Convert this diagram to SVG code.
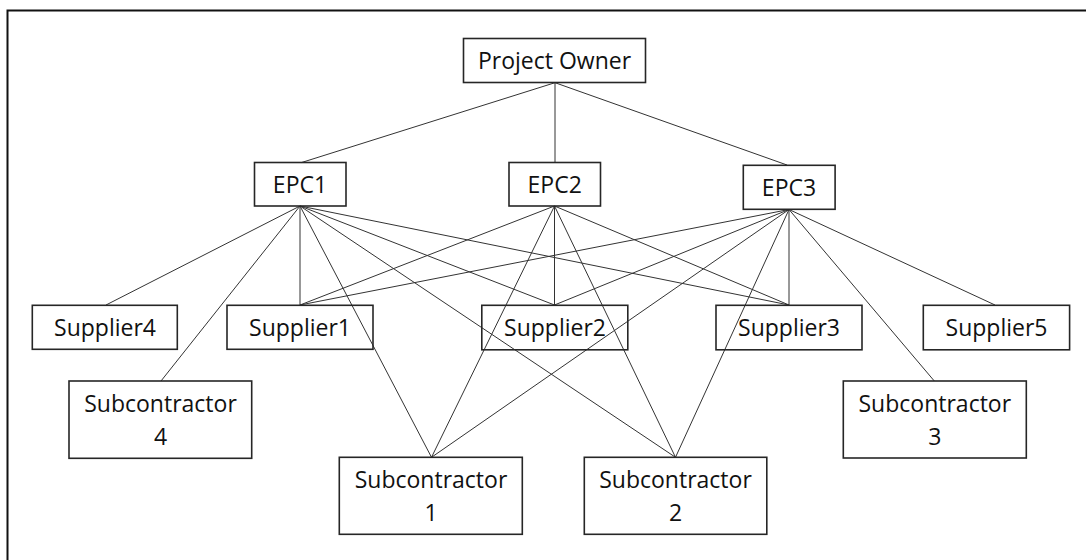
<svg xmlns="http://www.w3.org/2000/svg" width="1086" height="560" viewBox="0 0 1086 560">
<style>
.box{fill:none;stroke:#262626;stroke-width:1.6}
.lbl{font-family:"Open Sans","Noto Sans",sans-serif;font-size:23px;fill:#111;text-anchor:middle}
.ln{stroke:#333;stroke-width:1;fill:none}
.frame{stroke:#111;stroke-width:2;fill:none}
</style>
<rect width="1086" height="560" fill="#fff"/>
<path class="frame" d="M7.5,560 V10.5 H1086"/>
<g id="connectors">
<line class="ln" x1="555" y1="82.7" x2="301" y2="162.7"/>
<line class="ln" x1="555" y1="82.7" x2="555" y2="162.7"/>
<line class="ln" x1="555" y1="82.7" x2="787" y2="165"/>
<line class="ln" x1="300" y1="206" x2="106" y2="305"/>
<line class="ln" x1="300" y1="206" x2="161" y2="381"/>
<line class="ln" x1="300" y1="206" x2="300" y2="305"/>
<line class="ln" x1="300" y1="206" x2="554.5" y2="305"/>
<line class="ln" x1="300" y1="206" x2="789" y2="305"/>
<line class="ln" x1="300" y1="206" x2="431.5" y2="457.3"/>
<line class="ln" x1="300" y1="206" x2="675.5" y2="457.3"/>
<line class="ln" x1="554.5" y1="206" x2="300" y2="305"/>
<line class="ln" x1="554.5" y1="206" x2="554.5" y2="305"/>
<line class="ln" x1="554.5" y1="206" x2="789" y2="305"/>
<line class="ln" x1="554.5" y1="206" x2="431.5" y2="457.3"/>
<line class="ln" x1="554.5" y1="206" x2="675.5" y2="457.3"/>
<line class="ln" x1="789" y1="209.5" x2="300" y2="305"/>
<line class="ln" x1="789" y1="209.5" x2="554.5" y2="305"/>
<line class="ln" x1="789" y1="209.5" x2="789" y2="305"/>
<line class="ln" x1="789" y1="209.5" x2="995" y2="305"/>
<line class="ln" x1="789" y1="209.5" x2="431.5" y2="457.3"/>
<line class="ln" x1="789" y1="209.5" x2="675.5" y2="457.3"/>
<line class="ln" x1="789" y1="209.5" x2="934.3" y2="381"/>
</g>
<g id="project-owner"><rect class="box" x="463.5" y="38.5" width="182" height="44"/><text class="lbl" x="554.5" y="69">Project Owner</text></g>
<g id="epc1"><rect class="box" x="254.5" y="162.5" width="91.5" height="43.5"/><text class="lbl" x="300" y="193">EPC1</text></g>
<g id="epc2"><rect class="box" x="509" y="162.5" width="91.5" height="43.5"/><text class="lbl" x="554.7" y="193">EPC2</text></g>
<g id="epc3"><rect class="box" x="743.3" y="165.3" width="91.8" height="44"/><text class="lbl" x="789" y="196">EPC3</text></g>
<g id="supplier4"><rect class="box" x="32.3" y="305.3" width="145" height="44"/><text class="lbl" x="105" y="335.5">Supplier4</text></g>
<g id="supplier1"><rect class="box" x="227" y="305.3" width="146" height="44"/><text class="lbl" x="300" y="335.5">Supplier1</text></g>
<g id="supplier2"><rect class="box" x="481.8" y="305.3" width="146" height="44.5"/><text class="lbl" x="555" y="335.8">Supplier2</text></g>
<g id="supplier3"><rect class="box" x="716" y="305.3" width="146" height="44.5"/><text class="lbl" x="789" y="335.8">Supplier3</text></g>
<g id="supplier5"><rect class="box" x="923.3" y="305.3" width="146.3" height="44.5"/><text class="lbl" x="996.5" y="335.8">Supplier5</text></g>
<g id="subcontractor4"><rect class="box" x="69" y="381" width="182.7" height="77.3"/><text class="lbl" x="160.5" y="412">Subcontractor</text><text class="lbl" x="160.5" y="444.5">4</text></g>
<g id="subcontractor1"><rect class="box" x="339.3" y="457.3" width="183" height="77"/><text class="lbl" x="431" y="488">Subcontractor</text><text class="lbl" x="431" y="520.7">1</text></g>
<g id="subcontractor2"><rect class="box" x="584.3" y="457.3" width="182.5" height="77"/><text class="lbl" x="675.5" y="488">Subcontractor</text><text class="lbl" x="675.5" y="520.7">2</text></g>
<g id="subcontractor3"><rect class="box" x="843.3" y="381" width="183" height="77"/><text class="lbl" x="934.8" y="412">Subcontractor</text><text class="lbl" x="934.8" y="444.5">3</text></g>
</svg>
